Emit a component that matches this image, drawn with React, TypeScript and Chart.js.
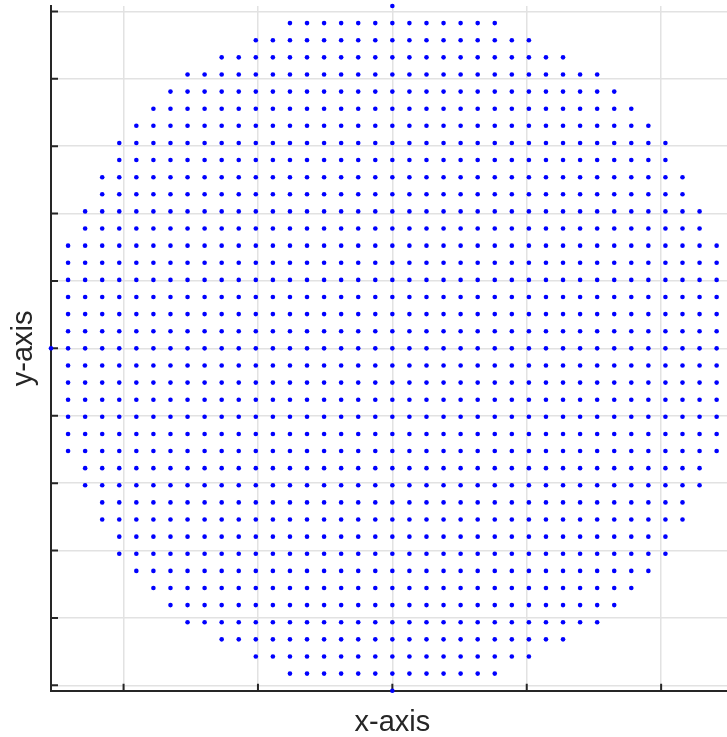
import React, { useEffect, useRef } from "react";
import { Chart, registerables } from "chart.js";

Chart.register(...registerables);

// Die pitch (mm) and row layout
const PITCH_MM = 2.54;
// row index (in pitches, top to bottom)
const rowIndices = [
  20, 19, 18, 17, 16, 15, 14, 13, 12, 11, 10, 9, 8, 7, 6, 5, 4, 3, 2, 1, 0,
  -1, -2, -3, -4, -5, -6, -7, -8, -9, -10, -11, -12, -13, -14, -15, -16, -17, -18, -19, -20,
];
// half-width of each row (number of dies each side of centre)
const rowHalfWidths = [
  0, 6, 8, 10, 12, 13, 14, 15, 16, 16, 17, 17, 18, 18, 19, 19, 19, 19, 19, 19, 20,
  19, 19, 19, 19, 19, 19, 18, 18, 17, 17, 16, 16, 15, 14, 13, 12, 10, 8, 6, 0,
];

const xTickValues = [-40, -20, 0, 20, 40];
const yTickValues = [-50, -40, -30, -20, -10, 0, 10, 20, 30, 40, 50];
const axisMin = -50.8;
const axisMax = 50.8;

const AXIS_COLOR = "#262626";

export default function App() {
  const canvasRef = useRef<HTMLCanvasElement | null>(null);

  useEffect(() => {
    const canvas = canvasRef.current;
    if (!canvas) return;

    const points: { x: number; y: number }[] = [];
    rowIndices.forEach((j, r) => {
      const hw = rowHalfWidths[r];
      for (let i = -hw; i <= hw; i++) {
        points.push({ x: i * PITCH_MM, y: j * PITCH_MM });
      }
    });

    const inwardTicks = {
      id: "inwardTicks",
      beforeDatasetsDraw(chart: any) {
        const { ctx, chartArea, scales } = chart;
        ctx.save();
        ctx.strokeStyle = AXIS_COLOR;
        ctx.lineWidth = 2;
        ctx.beginPath();
        for (const t of scales.y.ticks) {
          const p = scales.y.getPixelForValue(t.value);
          ctx.moveTo(chartArea.left, p);
          ctx.lineTo(chartArea.left + 7, p);
        }
        for (const t of scales.x.ticks) {
          const p = scales.x.getPixelForValue(t.value);
          ctx.moveTo(p, chartArea.bottom);
          ctx.lineTo(p, chartArea.bottom - 7);
        }
        ctx.stroke();
        ctx.restore();
      },
    };

    const titleFont = { family: "'Liberation Sans', Arial, sans-serif", size: 29, lineHeight: 1 };

    const chart = new Chart(canvas, {
      type: "scatter",
      data: {
        datasets: [
          {
            data: points,
            backgroundColor: "#0000ff",
            borderWidth: 0,
            pointRadius: 2.3,
            pointHoverRadius: 2.3,
            clip: false as any,
          },
        ],
      },
      options: {
        animation: false,
        responsive: false,
        events: [],
        layout: { padding: { top: 6, left: 0, right: 0, bottom: 0 } },
        plugins: { legend: { display: false }, tooltip: { enabled: false } },
        scales: {
          x: {
            type: "linear",
            min: axisMin,
            max: axisMax,
            afterBuildTicks: (scale: any) => {
              scale.ticks = xTickValues.map((v) => ({ value: v }));
            },
            afterFit: (scale: any) => {
              scale.height = 46.3;
            },
            ticks: { display: false },
            grid: { color: "#e2e2e2", lineWidth: 1.5, drawTicks: false, tickLength: 0 },
            border: { display: true, color: AXIS_COLOR, width: 2 },
            title: {
              display: true,
              text: "x-axis",
              color: AXIS_COLOR,
              font: titleFont,
              padding: { top: 0, bottom: 0 },
            },
          },
          y: {
            type: "linear",
            min: axisMin,
            max: axisMax,
            afterBuildTicks: (scale: any) => {
              scale.ticks = yTickValues.map((v) => ({ value: v }));
            },
            afterFit: (scale: any) => {
              scale.width = 51;
            },
            ticks: { display: false },
            grid: { color: "#e2e2e2", lineWidth: 1.5, drawTicks: false, tickLength: 0 },
            border: { display: true, color: AXIS_COLOR, width: 2 },
            title: {
              display: true,
              text: "y-axis",
              color: AXIS_COLOR,
              font: titleFont,
              padding: { top: 9, bottom: 0 },
            },
          },
        },
      },
      plugins: [inwardTicks],
    });

    return () => chart.destroy();
  }, []);

  return (
    <div
      style={{
        position: "absolute",
        left: 0,
        top: 0,
        width: 727,
        height: 737,
        overflow: "hidden",
        background: "#ffffff",
      }}
    >
      <canvas ref={canvasRef} width={736} height={737} style={{ display: "block" }} />
    </div>
  );
}
